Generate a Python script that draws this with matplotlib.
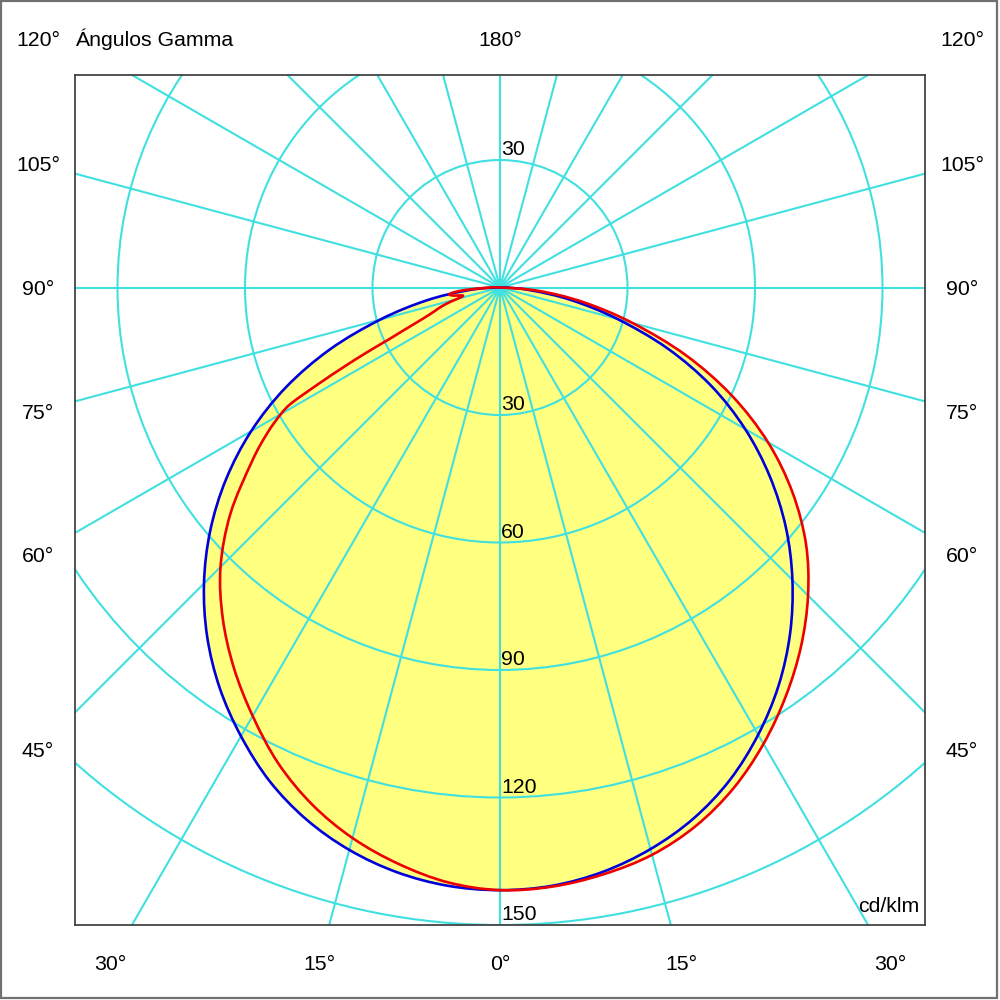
import numpy as np
import matplotlib
matplotlib.use('Agg')
import matplotlib.pyplot as plt
from matplotlib.patches import Circle, Rectangle, PathPatch
from matplotlib.path import Path

plt.rcParams['font.family'] = ['Liberation Sans', 'DejaVu Sans']

# ---------------- data (cd/klm) ----------------
gamma = [0, 5, 10, 15, 20, 25, 30, 35, 40, 45, 50, 55, 60, 65, 70, 75, 80, 85, 90]
blue_c0 = [141.8, 141.3, 139.6, 136.8, 133.0, 127.9, 121.5, 114.3, 106.2, 97.3, 87.8, 77.5, 66.6,
           54.9, 42.0, 28.6, 17.0, 7.0, 0.0]
blue_c180 = [141.8, 141.3, 139.7, 137.0, 133.2, 128.2, 121.9, 115.0, 107.2, 98.5, 89.0, 78.7, 67.6,
             55.6, 42.6, 29.2, 17.6, 7.6, 0.0]
red_c90 = [141.8, 141.5, 140.2, 138.2, 134.8, 130.0, 124.0, 117.3, 110.2, 102.5, 94.0, 84.0, 72.8,
           60.2, 46.5, 32.3, 20.0, 9.2, 0.0]
gamma_c270 = [0, 5, 10, 15, 20, 25, 30, 35, 40, 45, 50, 55, 58, 60, 61, 62, 63, 64, 65, 66, 68,
              70, 72, 74, 76, 78, 80, 82, 84, 86, 88, 90]
red_c270 = [141.8, 140.5, 137.7, 134.1, 129.4, 123.5, 116.4, 109.2, 101.5, 93.0, 82.8, 71.2, 64.5,
            59.5, 56.0, 48.5, 41.5, 35.0, 28.8, 25.0, 19.5, 16.5, 14.5, 12.0, 9.5, 9.0, 11.0, 12.0,
            11.0, 8.0, 4.0, 0.0]

rings = [30, 60, 90, 120, 150]
spoke_angles = list(range(0, 180, 15))
side_angles = [120, 105, 90, 75, 60, 45]
bottom_angles = [30, 15, 0, 15, 30]
bottom_sides = [-1, -1, 0, 1, 1]

title_text = 'Ángulos Gamma'
unit_text = 'cd/klm'

# ---------------- colours ----------------
c_fill = '#FFFF80'
c_grid = '#40E0E0'
c_blue = '#0000DD'
c_red = '#EE0000'

S = 4.25  # px per unit

fig = plt.figure(figsize=(10, 10), dpi=100)
ax = fig.add_axes([0.075, 0.075, 0.85, 0.85])
ax.set_xlim(-100, 100)
ax.set_ylim(-150, 50)
ax.set_aspect('equal')
ax.set_xticks([])
ax.set_yticks([])
for sp in ax.spines.values():
    sp.set_color('#444444')
    sp.set_linewidth(1.3)
    sp.set_zorder(6)


def curve_points(g_right, r_right, g_left, r_left):
    gr = np.radians(g_right)
    gl = np.radians(g_left)
    xr = np.array(r_right) * np.sin(gr)
    yr = -np.array(r_right) * np.cos(gr)
    xl = -np.array(r_left) * np.sin(gl)
    yl = -np.array(r_left) * np.cos(gl)
    # right half 0->90, then left half 90->0 (skip duplicate origin and bottom point)
    x = np.concatenate([xr, xl[::-1][1:-1]])
    y = np.concatenate([yr, yl[::-1][1:-1]])
    return np.column_stack([x, y])


def smooth_closed_path(P):
    """Closed Catmull-Rom curve through the points, drawn as cubic Bezier segments."""
    n = len(P)
    verts = [P[0]]
    codes = [Path.MOVETO]
    for i in range(n):
        p0 = P[(i - 1) % n]
        p1 = P[i]
        p2 = P[(i + 1) % n]
        p3 = P[(i + 2) % n]
        c1 = p1 + (p2 - p0) / 6.0
        c2 = p2 - (p3 - p1) / 6.0
        verts += [c1, c2, p2]
        codes += [Path.CURVE4] * 3
    verts.append(P[0])
    codes.append(Path.CLOSEPOLY)
    return Path(np.array(verts), codes)


blue_path = smooth_closed_path(curve_points(gamma, blue_c0, gamma, blue_c180))
red_path = smooth_closed_path(curve_points(gamma, red_c90, gamma_c270, red_c270))

ax.add_patch(PathPatch(blue_path, facecolor=c_fill, edgecolor='none', zorder=1))
ax.add_patch(PathPatch(red_path, facecolor=c_fill, edgecolor='none', zorder=1))

# grid
for r in rings:
    ax.add_patch(Circle((0, 0), r, fill=False, edgecolor=c_grid, linewidth=1.5, zorder=2))
for a in spoke_angles:
    t = np.radians(a)
    L = 400
    ax.plot([-L * np.sin(t), L * np.sin(t)], [L * np.cos(t), -L * np.cos(t)],
            color=c_grid, linewidth=1.5, zorder=2)

# curves
ax.add_patch(PathPatch(blue_path, facecolor='none', edgecolor=c_blue, linewidth=1.9, zorder=3,
                       joinstyle='round'))
ax.add_patch(PathPatch(red_path, facecolor='none', edgecolor=c_red, linewidth=1.9, zorder=4,
                       joinstyle='round'))

fs = 15.3
base_off = -7.5 / S  # baseline offset from visual centre

# ring labels
ax.text(0.3, rings[0] + 1.2, str(rings[0]), fontsize=fs, ha='left', va='baseline', zorder=5)
for r in rings:
    ax.text(0.3, -r + 1.1, str(r), fontsize=fs, ha='left', va='baseline', zorder=5)

# angle labels
xl = (38 - 500) / S
ytop = (287.5 - 38) / S
for a in side_angles:
    t = np.radians(a)
    yc = -(-xl) * np.cos(t) / np.sin(t)
    yc = min(yc, ytop)
    for sgn in (-1, 1):
        ax.text(sgn * (-xl), yc + base_off, f'{a}°', fontsize=fs, ha='center', va='baseline',
                clip_on=False)
ax.text(0, ytop + base_off, '180°', fontsize=fs, ha='center', va='baseline', clip_on=False)

yb = (287.5 - 963) / S
for a, sgn in zip(bottom_angles, bottom_sides):
    xc = sgn * (-yb) * np.tan(np.radians(a))
    ax.text(xc, yb + base_off, f'{a}°', fontsize=fs, ha='center', va='baseline', clip_on=False)

ax.text(-100, ytop + base_off, title_text, fontsize=fs, ha='left', va='baseline', clip_on=False)
ax.text((919 - 500) / S, (287.5 - 912) / S, unit_text, fontsize=fs, ha='right', va='baseline',
        zorder=5)

# outer frame
fig.patches.append(Rectangle((0.001, 0.002), 0.996, 0.997, transform=fig.transFigure,
                             fill=False, edgecolor='#707070', linewidth=1.6))

fig.savefig('out.png', dpi=100, facecolor='white')
